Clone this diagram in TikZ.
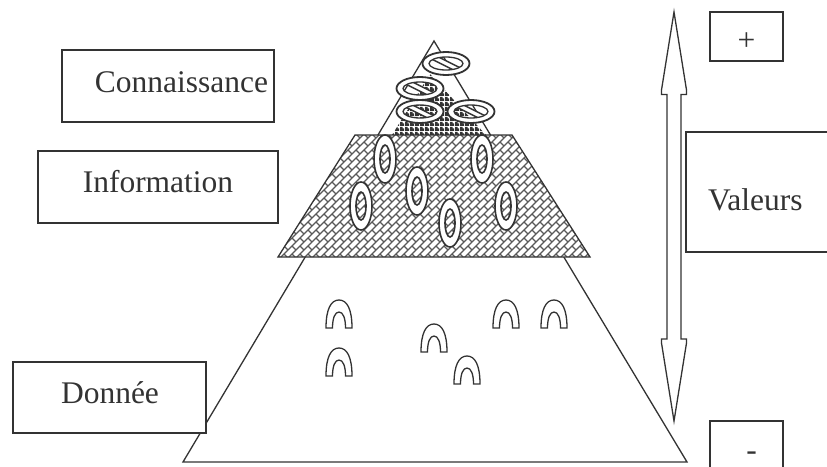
\documentclass[tikz,border=0pt]{standalone}
\usepackage{fontspec}
\setmainfont{Liberation Serif}
\usetikzlibrary{patterns}

% grey interlocking weave for the middle layer
\pgfdeclarepatternformonly{keyweave}{\pgfqpoint{-1pt}{-1pt}}{\pgfqpoint{9pt}{9pt}}{\pgfqpoint{8pt}{8pt}}{%
  \pgfsetlinewidth{1.2pt}%
  \pgfpathmoveto{\pgfqpoint{0pt}{0pt}}\pgfpathlineto{\pgfqpoint{8pt}{8pt}}%
  \pgfpathmoveto{\pgfqpoint{4pt}{4pt}}\pgfpathlineto{\pgfqpoint{8pt}{0pt}}%
  \pgfusepath{stroke}}

% dark dotted texture for the summit
\pgfdeclarepatternformonly{densechecks}{\pgfpointorigin}{\pgfqpoint{5pt}{5pt}}{\pgfqpoint{5pt}{5pt}}{%
  \pgfpathrectangle{\pgfpointorigin}{\pgfqpoint{5pt}{3pt}}%
  \pgfpathrectangle{\pgfqpoint{0pt}{3pt}}{\pgfqpoint{3pt}{2pt}}%
  \pgfusepath{fill}}

\definecolor{inkgrey}{HTML}{333333}

\begin{document}
\begin{tikzpicture}[x=1pt,y=-1pt,
  ink/.style={draw=inkgrey, line width=1.3pt},
  tag/.style={ink, fill=white, inner sep=0pt, rectangle},
  word/.style={font=\fontsize{31.5}{36}\selectfont, text=inkgrey, inner sep=0pt, anchor=base},
  eye/.pic={
    \draw[draw=inkgrey, line width=1.6pt, fill=white, even odd rule]
      (0,0) ellipse (11 and 24) (0,0) ellipse (5 and 14);
  },
  nosign/.pic={
    \fill[white, even odd rule] (0,0) ellipse (23.5 and 11.5) (0,0) ellipse (17 and 6.5);
    \begin{scope}
      \clip (0,0) ellipse (17 and 6.5);
      \fill[white] (-21.1,-7.8) -- (18.9,12.2) -- (21.1,7.8) -- (-18.9,-12.2) -- cycle;
      \draw[draw=inkgrey, line width=1.4pt] (-21.1,-7.8) -- (18.9,12.2) (21.1,7.8) -- (-18.9,-12.2);
    \end{scope}
    \draw[draw=inkgrey, line width=1.8pt] (0,0) ellipse (23.5 and 11.5);
    \draw[draw=inkgrey, line width=1.3pt] (0,0) ellipse (17 and 6.5);
  },
  arch/.pic={
    \draw[draw=inkgrey, line width=1.3pt, fill=white]
      (-13,0) .. controls (-13,-19) and (-8,-28) .. (0,-28)
      .. controls (8,-28) and (13,-19) .. (13,0) -- (6.5,0)
      .. controls (6.5,-10) and (4,-16) .. (0,-16)
      .. controls (-4,-16) and (-6.5,-10) .. (-6.5,0) -- cycle;
  }]

\clip (0,0) rectangle (827,466);
\fill[white] (0,0) rectangle (827,466);

% pyramid body
\draw[ink, fill=white] (434,41) -- (687,462) -- (183,462) -- cycle;

% dark summit core
\fill[pattern=densechecks, pattern color=inkgrey] (430,74) -- (486,135) -- (392,135) -- cycle;

% middle band
\draw[ink, preaction={fill=white}, pattern=keyweave, pattern color=black!65]
  (355,135) -- (512,135) -- (590,257) -- (278,257) -- cycle;

% information tokens
\pic at (385,159) {eye};
\pic at (482,159) {eye};
\pic at (417,191) {eye};
\pic at (361,206) {eye};
\pic at (506,206) {eye};
\pic at (450,223) {eye};

% knowledge tokens
\pic at (446,63.5) {nosign};
\pic at (420,88.5) {nosign};
\pic at (420,111.5) {nosign};
\pic at (471,111.5) {nosign};

% data tokens
\pic at (339,328) {arch};
\pic at (339,376) {arch};
\pic at (434,352) {arch};
\pic at (467,384) {arch};
\pic at (506,328) {arch};
\pic at (554,328) {arch};

% value scale
\draw[ink, fill=white, line join=miter]
  (674,12) -- (686.5,90) -- (686.5,94.5) -- (681,94.5) -- (681,339) -- (686.5,339) -- (686.5,343)
  -- (674,421) -- (661.5,343) -- (661.5,339) -- (667,339) -- (667,94.5) -- (661.5,94.5) -- (661.5,90) -- cycle;

% labels
\node[tag, minimum width=212pt, minimum height=72pt] (kbox) at (168,86) {};
\node[word] (ktext) at (181.5,92) {Connaissance};

\node[tag, minimum width=240pt, minimum height=72pt] (ibox) at (158,187) {};
\node[word] (itext) at (158,192) {Information};

\node[tag, minimum width=193pt, minimum height=71pt] (dbox) at (109.5,397.5) {};
\node[word] (dtext) at (110,403) {Donnée};

\node[tag, minimum width=73pt, minimum height=49pt] (pbox) at (746.5,36.5) {};
\node[word] (ptext) at (746.5,50) {+};

\node[tag, minimum width=194pt, minimum height=120pt] (vbox) at (783,192) {};
\node[word, anchor=base west] (vtext) at (708,210) {Valeurs};

\node[tag, minimum width=73pt, minimum height=79pt] (mbox) at (746.5,460.5) {};
\node[word] (mtext) at (751.5,460) {-};

\end{tikzpicture}
\end{document}
